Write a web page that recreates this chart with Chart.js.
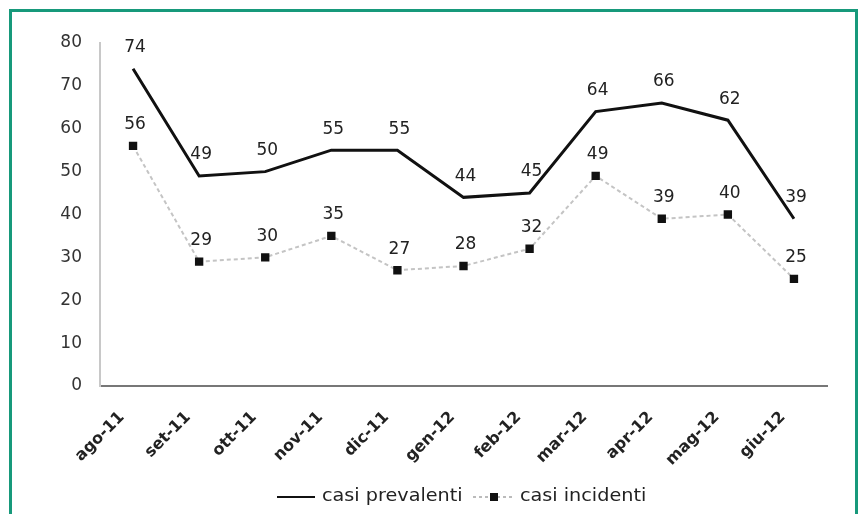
<!DOCTYPE html>
<html>
<head>
<meta charset="utf-8">
<script src="https://cdn.jsdelivr.net/npm/chart.js@4.4.1/dist/chart.umd.min.js"></script>
<style>
  body { margin: 0; background: #fff; }
  #cornice { position: absolute; left: 9px; top: 9px; width: 843px; height: 540px; border: 3px solid #17997b; }
  #wrap { position: absolute; left: 0; top: 0; width: 858px; height: 514px; overflow: hidden; }
</style>
</head>
<body>
<div id="wrap">
  <div id="cornice"></div>
  <canvas id="grafico" width="858" height="514" style="position:absolute;left:0;top:0"></canvas>
</div>
<script>
// mesi e valori
const mesi = ["ago-11", "set-11", "ott-11", "nov-11", "dic-11", "gen-12", "feb-12", "mar-12", "apr-12", "mag-12", "giu-12"];
const casiPrevalenti = [74, 49, 50, 55, 55, 44, 45, 64, 66, 62, 39];
const casiIncidenti = [56, 29, 30, 35, 27, 28, 32, 49, 39, 40, 25];
const tickY = [0, 10, 20, 30, 40, 50, 60, 70, 80];

const fontBase = "'DejaVu Sans', sans-serif";

// etichette sopra i punti
const etichette = {
  id: "etichette",
  afterDatasetsDraw(chart) {
    const ctx = chart.ctx;
    ctx.save();
    ctx.font = "17px " + fontBase;
    ctx.fillStyle = "#222";
    ctx.textAlign = "center";
    ctx.textBaseline = "middle";
    chart.data.datasets.forEach((ds, i) => {
      const meta = chart.getDatasetMeta(i);
      meta.data.forEach((p, j) => {
        ctx.fillText(ds.data[j], p.x + 2, p.y - 21);
      });
    });
    ctx.restore();
  }
};

// legenda in basso, disegnata a mano (testo un po' allargato come nell'originale)
const legenda = {
  id: "legenda",
  afterDraw(chart) {
    const ctx = chart.ctx;
    const y = 497;
    ctx.save();
    ctx.strokeStyle = "#111";
    ctx.lineWidth = 2;
    ctx.beginPath();
    ctx.moveTo(277, y);
    ctx.lineTo(315, y);
    ctx.stroke();
    ctx.strokeStyle = "#bbb";
    ctx.setLineDash([3, 3]);
    ctx.beginPath();
    ctx.moveTo(473, y);
    ctx.lineTo(514, y);
    ctx.stroke();
    ctx.setLineDash([]);
    ctx.fillStyle = "#111";
    ctx.fillRect(490, y - 4, 8, 8);
    ctx.font = "17px " + fontBase;
    ctx.fillStyle = "#222";
    ctx.textBaseline = "middle";
    ctx.save();
    ctx.translate(322, y);
    ctx.scale(1.13, 1);
    ctx.fillText("casi prevalenti", 0, 0);
    ctx.restore();
    ctx.save();
    ctx.translate(520, y);
    ctx.scale(1.13, 1);
    ctx.fillText("casi incidenti", 0, 0);
    ctx.restore();
    ctx.restore();
  }
};

new Chart(document.getElementById("grafico"), {
  type: "line",
  data: {
    labels: mesi,
    datasets: [
      {
        label: "casi prevalenti",
        data: casiPrevalenti,
        borderColor: "#111",
        borderWidth: 3,
        pointRadius: 0,
        tension: 0,
      },
      {
        label: "casi incidenti",
        data: casiIncidenti,
        borderColor: "#c4c4c4",
        borderWidth: 2,
        borderDash: [4, 3],
        pointStyle: "rect",
        pointRadius: 4.5,
        pointBackgroundColor: "#111",
        pointBorderColor: "#111",
        tension: 0,
      },
    ],
  },
  options: {
    responsive: false,
    animation: false,
    layout: { padding: { left: 0, right: 31, top: 43, bottom: 0 } },
    plugins: { legend: { display: false }, tooltip: { enabled: false } },
    scales: {
      x: {
        offset: true,
        grid: { display: false },
        border: { color: "#777", width: 2 },
        ticks: {
          minRotation: 45,
          maxRotation: 45,
          padding: 14,
          labelOffset: -11,
          color: "#222",
          font: { family: fontBase, size: 16, weight: "bold" },
        },
        afterFit: (scale) => { scale.height = 128; },
      },
      y: {
        min: 0,
        max: 80,
        grid: { display: false },
        border: { color: "#c8c8c8", width: 2 },
        afterBuildTicks: (scale) => { scale.ticks = tickY.map((v) => ({ value: v })); },
        ticks: {
          padding: 10,
          color: "#333",
          font: { family: fontBase, size: 17 },
        },
        afterFit: (scale) => { scale.width = 100; },
      },
    },
  },
  plugins: [etichette, legenda],
});
</script>
</body>
</html>
